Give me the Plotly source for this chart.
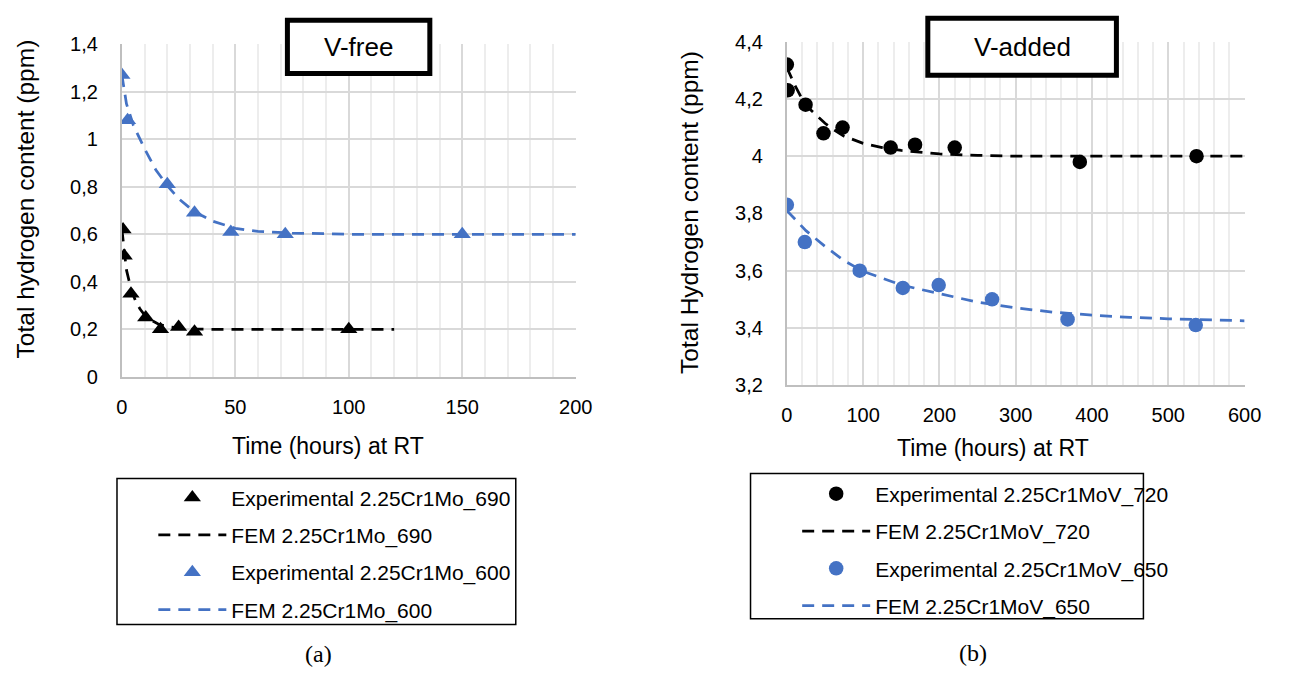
import plotly.graph_objects as go

# ---------------- data: (a) V-free ----------------
exp690_t = [0.5, 1, 4, 10.5, 17, 25, 32, 100]
exp690_h = [0.62, 0.51, 0.35, 0.25, 0.20, 0.21, 0.19, 0.20]
fem690_t = [0, 1, 2, 4, 6, 8, 10, 13, 16, 20, 25, 30, 40, 60, 80, 100, 120]
fem690_h = [0.62, 0.53, 0.45, 0.37, 0.32, 0.285, 0.26, 0.238, 0.222, 0.211, 0.205, 0.201, 0.2, 0.2, 0.2, 0.2, 0.2]

exp600_t = [0, 2.5, 20, 32, 48, 72, 150]
exp600_h = [1.27, 1.08, 0.81, 0.69, 0.61, 0.60, 0.60]
fem600_t = [0, 2, 5, 10, 15, 20, 25, 30, 35, 40, 50, 60, 75, 100, 150, 200]
fem600_h = [1.27, 1.15, 1.06, 0.96, 0.87, 0.805, 0.75, 0.71, 0.68, 0.655, 0.625, 0.612, 0.605, 0.60, 0.60, 0.60]

# ---------------- data: (b) V-added ----------------
exp720_t = [0, 1, 24.5, 48, 73, 136, 168, 220, 384, 537]
exp720_h = [4.32, 4.23, 4.18, 4.08, 4.10, 4.03, 4.04, 4.03, 3.98, 4.00]
fem720_t = [0, 10, 20, 30, 40, 50, 60, 75, 100, 125, 150, 175, 200, 250, 300, 400, 500, 600]
fem720_h = [4.31, 4.25, 4.20, 4.165, 4.14, 4.115, 4.095, 4.07, 4.045, 4.03, 4.02, 4.013, 4.008, 4.003, 4.0, 4.0, 4.0, 4.0]

exp650_t = [0, 23.5, 95.5, 152, 199, 269, 368, 536]
exp650_h = [3.83, 3.70, 3.60, 3.54, 3.55, 3.50, 3.43, 3.41]
fem650_t = [0, 25, 50, 75, 100, 150, 200, 250, 300, 350, 400, 450, 500, 550, 600]
fem650_h = [3.81, 3.74, 3.685, 3.635, 3.598, 3.55, 3.52, 3.49, 3.47, 3.455, 3.445, 3.437, 3.432, 3.428, 3.425]

# ---------------- tick labels ----------------
xa_vals = [0, 50, 100, 150, 200]
xa_text = ["0", "50", "100", "150", "200"]
ya_vals = [0, 0.2, 0.4, 0.6, 0.8, 1.0, 1.2, 1.4]
ya_text = ["0", "0,2", "0,4", "0,6", "0,8", "1", "1,2", "1,4"]
xb_vals = [0, 100, 200, 300, 400, 500, 600]
xb_text = ["0", "100", "200", "300", "400", "500", "600"]
yb_vals = [3.2, 3.4, 3.6, 3.8, 4.0, 4.2, 4.4]
yb_text = ["3,2", "3,4", "3,6", "3,8", "4", "4,2", "4,4"]

# ---------------- styling helpers ----------------
W, H = 1294, 682
FONT = "Liberation Sans"
BLUE = "#4472C4"
DASH = "12px,8px"


def px(x):
    return x / W


def py(y):
    return 1 - y / H


fig = go.Figure()

# (a) traces
fig.add_trace(go.Scatter(x=fem690_t, y=fem690_h, mode="lines", name="FEM 2.25Cr1Mo_690",
                         line=dict(color="black", width=2.75, dash=DASH),
                         xaxis="x", yaxis="y", legend="legend", legendgroup="a2", legendrank=2))
fig.add_trace(go.Scatter(x=fem600_t, y=fem600_h, mode="lines", name="FEM 2.25Cr1Mo_600",
                         line=dict(color=BLUE, width=2.75, dash=DASH),
                         xaxis="x", yaxis="y", legend="legend", legendgroup="a4", legendrank=4))
fig.add_trace(go.Scatter(x=exp690_t, y=exp690_h, mode="markers", name="Experimental 2.25Cr1Mo_690",
                         marker=dict(symbol="triangle-up", size=15, color="black"),
                         xaxis="x", yaxis="y", legend="legend", legendgroup="a1", legendrank=1))
fig.add_trace(go.Scatter(x=exp600_t, y=exp600_h, mode="markers", name="Experimental 2.25Cr1Mo_600",
                         marker=dict(symbol="triangle-up", size=15, color=BLUE),
                         xaxis="x", yaxis="y", legend="legend", legendgroup="a3", legendrank=3))

# (b) traces
fig.add_trace(go.Scatter(x=fem720_t, y=fem720_h, mode="lines", name="FEM 2.25Cr1MoV_720",
                         line=dict(color="black", width=2.75, dash=DASH),
                         xaxis="x2", yaxis="y2", legend="legend2", legendgroup="b2", legendrank=2))
fig.add_trace(go.Scatter(x=fem650_t, y=fem650_h, mode="lines", name="FEM 2.25Cr1MoV_650",
                         line=dict(color=BLUE, width=2.75, dash=DASH),
                         xaxis="x2", yaxis="y2", legend="legend2", legendgroup="b4", legendrank=4))
fig.add_trace(go.Scatter(x=exp720_t, y=exp720_h, mode="markers", name="Experimental 2.25Cr1MoV_720",
                         marker=dict(symbol="circle", size=14.5, color="black"),
                         xaxis="x2", yaxis="y2", legend="legend2", legendgroup="b1", legendrank=1))
fig.add_trace(go.Scatter(x=exp650_t, y=exp650_h, mode="markers", name="Experimental 2.25Cr1MoV_650",
                         marker=dict(symbol="circle", size=14.5, color=BLUE),
                         xaxis="x2", yaxis="y2", legend="legend2", legendgroup="b3", legendrank=3))

common_x = dict(showgrid=True, gridcolor="#d9d9d9", gridwidth=1.5,
                showline=True, linecolor="#bfbfbf", linewidth=2, zeroline=False,
                ticks="", tickfont=dict(size=20, family=FONT, color="black"),
                ticklabelstandoff=11, fixedrange=True, tickmode="array")
common_y = dict(showgrid=True, gridcolor="#d9d9d9", gridwidth=1.5,
                showline=True, linecolor="#bfbfbf", linewidth=2, zeroline=False,
                ticks="", tickfont=dict(size=20, family=FONT, color="black"),
                ticklabelstandoff=18, fixedrange=True, tickmode="array")

legend_common = dict(xanchor="left", yanchor="top", traceorder="grouped", tracegroupgap=7,
                     itemwidth=68, font=dict(size=21, family=FONT, color="black"),
                     bgcolor="rgba(0,0,0,0)", borderwidth=0)

fig.update_layout(
    width=W, height=H, margin=dict(l=0, r=0, t=0, b=0),
    paper_bgcolor="white", plot_bgcolor="white",
    font=dict(family=FONT, color="black"),
    showlegend=True,
    xaxis=dict(domain=[px(118), px(580)], range=[0, 200], anchor="y",
               tickvals=xa_vals, ticktext=xa_text,
               minor=dict(tick0=0, dtick=10, showgrid=True, gridcolor="#ededed", gridwidth=1.5),
               **common_x),
    yaxis=dict(domain=[py(378), py(34.3)], range=[0, 1.4], anchor="x",
               tickvals=ya_vals, ticktext=ya_text, **common_y),
    xaxis2=dict(domain=[px(795), px(1261)], range=[0, 600], anchor="y2",
                tickvals=xb_vals, ticktext=xb_text,
                minor=dict(tick0=0, dtick=20, showgrid=True, gridcolor="#ededed", gridwidth=1.5),
                **common_x),
    yaxis2=dict(domain=[py(386.7), py(31.7)], range=[3.2, 4.4], anchor="x2",
                tickvals=yb_vals, ticktext=yb_text, **common_y),
    legend=dict(x=px(150), y=py(482), **legend_common),
    legend2=dict(x=px(805.5), y=py(478), **legend_common),
)

# boxes: legend frames and title frames
shapes = [
    dict(type="rect", xref="paper", yref="paper", x0=px(113), x1=px(519), y0=py(634), y1=py(483),
         line=dict(color="black", width=1.5), fillcolor="rgba(0,0,0,0)", layer="above"),
    dict(type="rect", xref="paper", yref="paper", x0=px(758), x1=px(1158), y0=py(628), y1=py(478),
         line=dict(color="black", width=1.5), fillcolor="rgba(0,0,0,0)", layer="above"),
    dict(type="rect", xref="paper", yref="paper", x0=px(286.5), x1=px(431.5), y0=py(64.5), y1=py(9.5),
         line=dict(color="black", width=5), fillcolor="white", layer="above"),
    dict(type="rect", xref="paper", yref="paper", x0=px(938.5), x1=px(1130.5), y0=py(66.5), y1=py(7.5),
         line=dict(color="black", width=5), fillcolor="white", layer="above"),
]
fig.update_layout(shapes=shapes)


def ann(text, x, y, size, angle=0, family=FONT):
    return dict(text=text, x=px(x), y=py(y), xref="paper", yref="paper", showarrow=False,
                xanchor="center", yanchor="middle", textangle=angle,
                font=dict(size=size, family=family, color="black"))


fig.update_layout(annotations=[
    ann("V-free", 359, 37, 26),
    ann("V-added", 1034.5, 37, 26),
    ann("Total hydrogen content (ppm)", 20, 194, 24.5, -90),
    ann("Total Hydrogen content (ppm)", 696, 208, 24.5, -90),
    ann("Time (hours) at RT", 328, 450, 23),
    ann("Time (hours) at RT", 1005, 452, 23),
    ann("(a)", 318, 664, 24, family="Liberation Serif"),
    ann("(b)", 985, 663, 24, family="Liberation Serif"),
])

fig.write_html("out.html")
